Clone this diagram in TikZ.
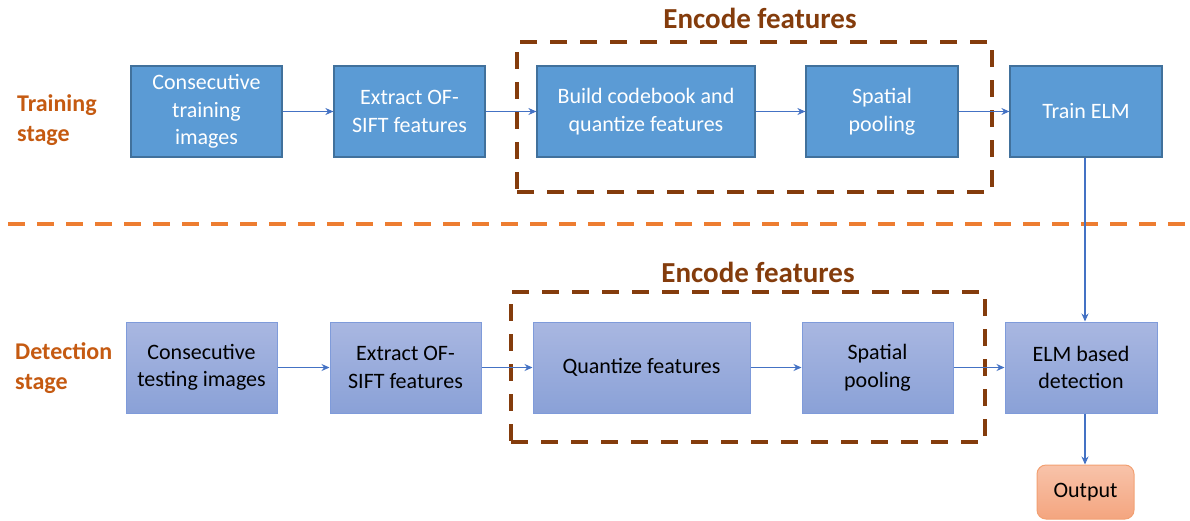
\documentclass[tikz,border=0pt]{standalone}
\usepackage{fontspec}
\setmainfont{Carlito}
\usetikzlibrary{arrows.meta}
\definecolor{tfill}{HTML}{5B9BD5}
\definecolor{tborder}{HTML}{41719C}
\definecolor{dtop}{HTML}{A9B7E1}
\definecolor{dbot}{HTML}{8AA1D7}
\definecolor{dborder}{HTML}{7F9BDA}
\definecolor{brownd}{HTML}{843C0C}
\definecolor{orangel}{HTML}{ED7D31}
\definecolor{stagec}{HTML}{C55A11}
\definecolor{arrowc}{HTML}{4472C4}
\definecolor{otop}{HTML}{F8C3AA}
\definecolor{obot}{HTML}{F4A57F}
\definecolor{oborder}{HTML}{F2A072}
\begin{document}
\begin{tikzpicture}[x=1pt,y=-1pt,
  boxtext/.style={font=\fontsize{22}{27.5}\selectfont, align=center, inner sep=0pt},
  tbox/.style={boxtext, draw=tborder, line width=1.2pt, fill=tfill, text=white, minimum height=91pt},
  dbox/.style={boxtext, draw=dborder, line width=1pt, top color=dtop, bottom color=dbot, text=black, minimum height=91pt},
  encbox/.style={draw=brownd, line width=4pt, dash pattern=on 17pt off 13pt, minimum height=150pt, inner sep=0pt},
  enclabel/.style={font=\fontsize{29}{34}\bfseries\selectfont, text=brownd, inner sep=0pt},
  stagelabel/.style={font=\fontsize{24}{30}\bfseries\selectfont, text=stagec, align=left, anchor=west, inner sep=0pt},
  flow/.style={draw=arrowc, line width=1.1pt, -{Stealth[length=8pt,width=7pt]}},
  sep/.style={draw=orangel, line width=4pt, dash pattern=on 17pt off 12pt}
]
\clip (0,0) rectangle (1190,520);
\fill[white] (0,0) rectangle (1190,520);

% encode boxes
\node[encbox, minimum width=475pt] (enc1) at (754.5,117) {};
\node[encbox, minimum width=474pt] (enc2) at (748,367) {};
\node[enclabel] (el1) at (760,18) {Encode features};
\node[enclabel] (el2) at (758,272) {Encode features};

% stage labels
\node[stagelabel] (st1) at (17,120) {Training\\stage};
\node[stagelabel] (st2) at (15,368) {Detection\\stage};

% separator
\coordinate (s1) at (8,224);
\coordinate (s2) at (1190,224);
\draw[sep] (s1) -- (s2);

% training row
\node[tbox, minimum width=151pt] (t1) at (206.5,111.5) {Consecutive\\training\\images};
\node[tbox, minimum width=151pt] (t2) at (409.5,111.5) {Extract OF-\\SIFT features};
\node[tbox, minimum width=218pt] (t3) at (646,111.5) {Build codebook and\\quantize features};
\node[tbox, minimum width=152pt] (t4) at (882,111.5) {Spatial\\pooling};
\node[tbox, minimum width=152pt] (t5) at (1086,111.5) {Train ELM};

% detection row
\node[dbox, minimum width=151pt] (d1) at (201.5,367.5) {Consecutive\\testing images};
\node[dbox, minimum width=151pt] (d2) at (405.5,367.5) {Extract OF-\\SIFT features};
\node[dbox, minimum width=217pt] (d3) at (641.5,367.5) {Quantize features};
\node[dbox, minimum width=151pt] (d4) at (877.5,367.5) {Spatial\\pooling};
\node[dbox, minimum width=152pt] (d5) at (1081,367.5) {ELM based\\detection};

% output
\node[boxtext, draw=oborder, line width=1pt, rounded corners=9pt, top color=otop, bottom color=obot, text=black, minimum width=97pt, minimum height=54pt] (out) at (1085.5,492) {Output};

% arrows
\draw[flow] (t1) -- (t2);
\draw[flow] (t2) -- (t3);
\draw[flow] (t3) -- (t4);
\draw[flow] (t4) -- (t5);
\draw[flow] (d1) -- (d2);
\draw[flow] (d2) -- (d3);
\draw[flow] (d3) -- (d4);
\draw[flow] (d4) -- (d5);
\draw[flow] (t5.south -| 1085,0) -- (d5.north -| 1085,0);
\draw[flow] (d5.south -| 1085,0) -- (out.north -| 1085,0);
\end{tikzpicture}
\end{document}
